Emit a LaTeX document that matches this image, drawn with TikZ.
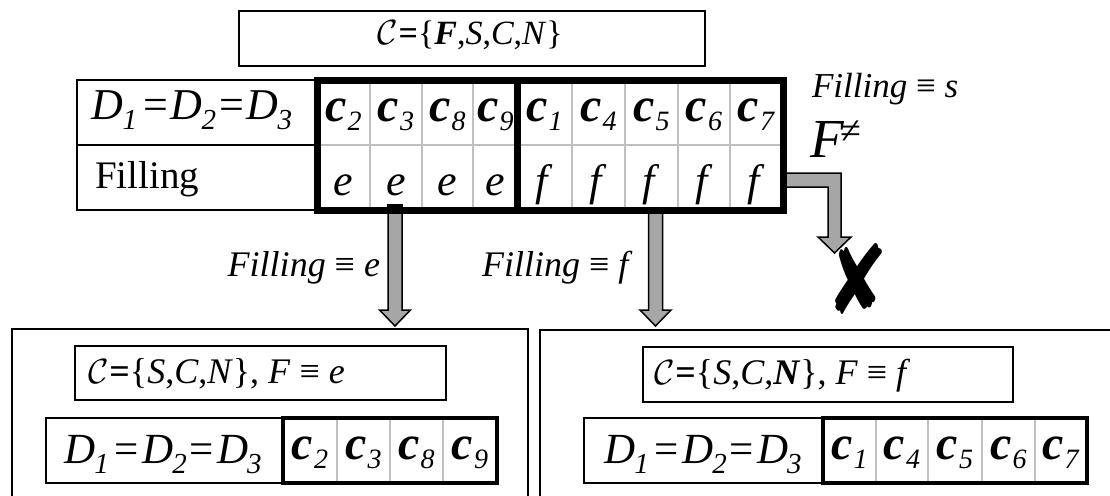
\documentclass[tikz,border=0pt]{standalone}
\usepackage{graphicx}
\usepackage{fontspec}
\setmainfont{Liberation Serif}
\newfontfamily\dejavu{DejaVu Sans}
\usetikzlibrary{calc}
\definecolor{arrgray}{RGB}{166,166,166}
\definecolor{gridgray}{RGB}{192,192,192}
\newcommand{\fs}[1]{\fontsize{#1}{#1}\selectfont}
\newcommand{\cel}[1]{\textbf{\textit{c}}\kern1pt\raisebox{-9pt}{\fs{28}\textit{#1}}}
\newcommand{\Dv}[1]{\textit{D}\kern-1pt\raisebox{-10pt}{\fs{29}\textit{#1}}}
\newcommand{\Dline}{\Dv{1}\kern6pt=\kern3pt\Dv{2}\kern3pt=\kern3pt\Dv{3}}
\newcommand{\calC}[1]{\scalebox{#1}{\fs{10}$\mathcal{C}$}\kern1pt\textbf{=}}
\newcommand{\fatdown}[2]{%
  \draw[fatarr] ($(#1)+(-7,0)$) -- ($(#2)+(-7,-16)$) -- ($(#2)+(-15.5,-16)$) -- (#2)
    -- ($(#2)+(15.5,-16)$) -- ($(#2)+(7,-16)$) -- ($(#1)+(7,0)$) -- cycle;}
\tikzset{
  thinln/.style={draw=black, line width=1.8pt},
  thickln/.style={draw=black, line width=7pt},
  thickbot/.style={draw=black, line width=4pt},
  gridln/.style={draw=gridgray, line width=1.8pt},
  fatarr/.style={fill=arrgray, draw=black, line width=1.5pt, line join=miter},
  txt/.style={inner sep=0pt, outer sep=0pt},
}
\begin{document}
\begin{tikzpicture}[x=1pt, y=-1pt]
\clip (0,0) rectangle (1110,495);
\fill[white] (0,0) rectangle (1110,495);

% ---------- top formula box ----------
\draw[thinln] (239,11) rectangle (705,66);
\node[txt, anchor=base, font=\fs{34}] (topf) at (470,45) {\calC{3.5}\{\textbf{\textit{F}},\textit{S},\textit{C},\textit{N}\}};

% ---------- arrows that go under the table ----------
\coordinate (elS) at (775,180);
\coordinate (elC) at (834.5,180);
\coordinate (elT) at (834.5,253);
\draw[fatarr] ($(elS)+(0,-7)$) -- ($(elC)+(6.5,-7)$) -- ($(elT)+(6.5,-16)$) -- ($(elT)+(16.5,-16)$) -- (elT)
   -- ($(elT)+(-16.5,-16)$) -- ($(elT)+(-6.5,-16)$) -- ($(elC)+(-6.5,7)$) -- ($(elS)+(0,7)$) -- cycle;
\coordinate (aFs) at (655.5,206);
\coordinate (aFt) at (655.5,326);
\fatdown{aFs}{aFt}
\coordinate (aEs) at (395,205);
\coordinate (aEt) at (395,326);
\fatdown{aEs}{aEt}

% ---------- main table ----------
\fill[white] (77,80) rectangle (783,210);
\draw[thinln] (77,80) rectangle (317,210);
\draw[thinln] (77,145) -- (317,145);
\draw[gridln] (317,145) -- (783,145);
\foreach \xx in {370,422,473,572,625,678,730} \draw[gridln] (\xx,80) -- (\xx,210);
\draw[thickln] (317,80) rectangle (783,210);
\draw[thickln] (517,80) -- (517,210);
\fill[black] ($(aEs)+(-7.75,-1)$) rectangle ($(aEs)+(7.75,8)$);

\node[txt, anchor=base, font=\fs{44}] (tD) at (192,119) {\Dline};
\node[txt, anchor=base west, font=\fs{39}] (tFill) at (95,188) {Filling};

\foreach \nm/\xx/\lab in {c2/343.5/2, c3/396/3, c8/447.5/8, c9/495.5/9, c1/544.5/1, c4/598.5/4, c5/651.5/5, c6/704/6, c7/756.5/7}
  \node[txt, anchor=base, font=\fs{48}] (t\nm) at (\xx,121) {\cel{\lab}};
\foreach \nm/\xx/\lab in {v2/343.5/e, v3/396/e, v8/447.5/e, v9/495.5/e, v1/544.5/f, v4/598.5/f, v5/651.5/f, v6/704/f, v7/756.5/f}
  \node[txt, anchor=base, font=\fs{44}] (t\nm) at (\xx,195) {\textit{\lab}};

% ---------- labels ----------
\node[txt, anchor=base west, font=\fs{35}] (lblS) at (812,97) {\textit{Filling} ≡ \textit{s}};
\node[txt, anchor=base west, font=\fs{55}] (lblF) at (810,157) {\textit{F}};
\node[txt, font=\fs{38}] (lblNe) at (851,132) {≠};
\node[txt, anchor=base east, font=\fs{36}] (lblE) at (380,276) {\textit{Filling} ≡ \textit{e}};
\node[txt, anchor=base west, font=\fs{36}] (lblFf) at (482,276) {\textit{Filling} ≡ \textit{f}};
\node[txt, font=\dejavu\fs{74}, yscale=1.3] (cross) at (857,279) {✘};

% ---------- bottom left ----------
\draw[thinln] (12,329) rectangle (528,520);
\draw[thinln] (75,346) rectangle (446,400);
\node[txt, anchor=base west, font=\fs{36}] (blf) at (88,383) {\calC{3.5}\{\textit{S},\textit{C},\textit{N}\}, \textit{F} ≡ \textit{e}};
\draw[thinln] (46,418) rectangle (283,483);
\foreach \xx in {337,390,443} \draw[gridln] (\xx,418) -- (\xx,483);
\draw[thickbot] (283,418) rectangle (497,483);
\node[txt, anchor=base, font=\fs{43}] (bD1) at (163,463) {\Dline};
\foreach \nm/\xx/\lab in {c2/310/2, c3/363.5/3, c8/416.5/8, c9/470/9}
  \node[txt, anchor=base, font=\fs{48}] (bl\nm) at (\xx,459) {\cel{\lab}};

% ---------- bottom right ----------
\draw[thinln] (540,330) rectangle (1130,520);
\draw[thinln] (643,347) rectangle (1013,402);
\node[txt, anchor=base west, font=\fs{36}] (brf) at (654,384) {\calC{3.5}\{\textit{S},\textit{C},\textbf{\textit{N}}\}, \textit{F} ≡ \textit{f}};
\draw[thinln] (584,418) rectangle (823,483);
\foreach \xx in {876,928,982,1035} \draw[gridln] (\xx,418) -- (\xx,483);
\draw[thickbot] (823,418) rectangle (1087,483);
\node[txt, anchor=base, font=\fs{43}] (bD2) at (703,463) {\Dline};
\foreach \nm/\xx/\lab in {c1/849.5/1, c4/902/4, c5/955/5, c6/1008.5/6, c7/1061/7}
  \node[txt, anchor=base, font=\fs{48}] (br\nm) at (\xx,459) {\cel{\lab}};
\end{tikzpicture}
\end{document}
